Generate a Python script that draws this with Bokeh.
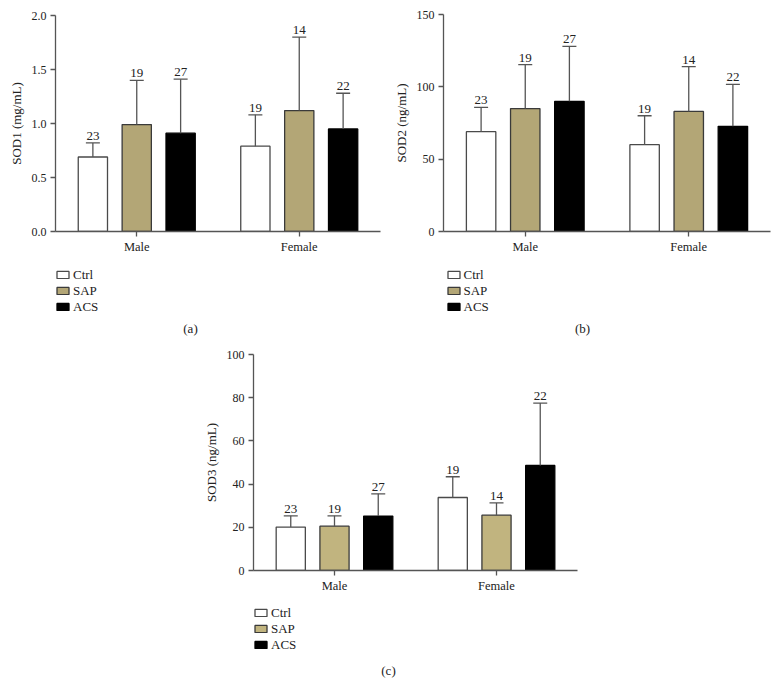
from bokeh.plotting import figure
from bokeh.models import (FactorRange, Range1d, ColumnDataSource, Whisker, TeeHead,
                          Legend, LegendItem, Label, FixedTicker, Spacer)
from bokeh.transform import dodge
from bokeh.layouts import column, row
from bokeh.core.properties import value
from bokeh.embed import file_html
from bokeh.resources import INLINE

sexes = ["Male", "Female"]
groups = ["Ctrl", "SAP", "ACS"]
n_male = [23, 19, 27]
n_female = [19, 14, 22]

# SOD1 (mg/mL)
sod1_male_mean = [0.69, 0.99, 0.91]
sod1_male_sd = [0.13, 0.41, 0.50]
sod1_female_mean = [0.79, 1.12, 0.95]
sod1_female_sd = [0.29, 0.68, 0.33]

# SOD2 (ng/mL)
sod2_male_mean = [69.0, 85.0, 90.0]
sod2_male_sd = [16.8, 30.4, 38.0]
sod2_female_mean = [60.0, 83.0, 72.7]
sod2_female_sd = [20.0, 31.0, 29.0]

# SOD3 (ng/mL)
sod3_male_mean = [20.1, 20.5, 25.2]
sod3_male_sd = [5.2, 4.8, 10.3]
sod3_female_mean = [33.8, 25.6, 48.6]
sod3_female_sd = [9.6, 5.7, 28.9]

SERIF = "Liberation Serif"
AX = "#555555"
TXT = "#222222"
OFFSETS = [-0.27, 0.0, 0.27]
LINES = ["#4a4a4a", "#3a3a3a", "black"]


def chart(ylabel, mm, sm, mf, sf, ymax, ticks, fmt_dec, width, height,
          bl, br, bt, bb, sap_color):
    p = figure(width=width, height=height, output_backend="svg", toolbar_location=None,
               x_range=FactorRange(factors=sexes, range_padding=0),
               y_range=Range1d(0, ymax),
               min_border_left=bl, min_border_right=br, min_border_top=bt,
               min_border_bottom=bb)
    p.outline_line_color = None
    p.xgrid.grid_line_color = None
    p.ygrid.grid_line_color = None

    for ax in (p.xaxis[0], p.yaxis[0]):
        ax.axis_line_color = AX
        ax.axis_line_width = 1.3
        ax.major_tick_line_color = AX
        ax.major_tick_line_width = 1.3
        ax.major_tick_out = 5
        ax.major_tick_in = 0
        ax.minor_tick_line_color = None
        ax.major_label_text_font = SERIF
        ax.major_label_text_color = TXT
    p.xaxis.major_label_text_font_size = "12.5px"
    p.xaxis.major_label_standoff = 3
    p.yaxis.major_label_text_font_size = "12px"
    p.yaxis.major_label_standoff = 4
    p.yaxis.ticker = FixedTicker(ticks=ticks)
    if fmt_dec:
        p.yaxis.major_label_overrides = {t: f"{t:.1f}" for t in ticks}
    else:
        p.yaxis.major_label_overrides = {t: f"{t:.0f}" for t in ticks}
    p.yaxis.axis_label = ylabel
    p.yaxis.axis_label_text_font = SERIF
    p.yaxis.axis_label_text_font_style = "normal"
    p.yaxis.axis_label_text_font_size = "13px"
    p.yaxis.axis_label_text_color = TXT
    p.yaxis.axis_label_standoff = 5

    fills = ["white", sap_color, "black"]
    for i, g in enumerate(groups):
        src = ColumnDataSource(dict(
            x=sexes,
            top=[mm[i], mf[i]],
            upper=[mm[i] + sm[i], mf[i] + sf[i]],
            n=[str(n_male[i]), str(n_female[i])],
        ))
        xs = dodge("x", OFFSETS[i], range=p.x_range)
        w = Whisker(base=xs, upper="upper", lower="top", source=src, dimension="height",
                    line_color="#555555", line_width=1.3,
                    upper_head=TeeHead(size=14, line_color="#555555", line_width=1.3),
                    lower_head=None, level="glyph")
        p.add_layout(w)
        p.vbar(x=xs, top="top", width=0.18, source=src, fill_color=fills[i],
               line_color=LINES[i], line_width=1.3)
        p.text(x=xs, y="upper", text="n", source=src, text_align="center",
               text_baseline="alphabetic", y_offset=-7, text_font=value(SERIF),
               text_font_size="13px", text_color=TXT)
    return p


def legend_box(width, height, lx, ly, caption, cx, cy, sap_color):
    f = figure(width=width, height=height, output_backend="svg", toolbar_location=None,
               x_range=Range1d(0, 1), y_range=Range1d(0, 1),
               x_axis_type=None, y_axis_type=None,
               min_border_left=0, min_border_right=0, min_border_top=0, min_border_bottom=0)
    f.outline_line_color = None
    fills = ["white", sap_color, "black"]
    items = []
    for i, g in enumerate(groups):
        # hidden legend proxy (only its legend swatch is shown)
        proxy = ColumnDataSource(dict(x=[0.5], top=[0.5]))
        r = f.vbar(x="x", top="top", width=0.1, source=proxy, fill_color=fills[i],
                   line_color=LINES[i], line_width=1.3, visible=False)
        items.append(LegendItem(label=g, renderers=[r]))
    leg = Legend(items=items, location=(lx, ly), glyph_width=15, glyph_height=9,
                 label_standoff=3, spacing=0, padding=0, margin=0,
                 border_line_color=None, background_fill_alpha=0,
                 inactive_fill_alpha=0,
                 label_text_font=SERIF, label_text_font_size="13px",
                 label_text_color=TXT, label_height=12)
    f.add_layout(leg)
    f.add_layout(Label(x=cx, y=cy, x_units="screen", y_units="screen", text=caption,
                       text_align="center", text_baseline="middle", text_font=SERIF,
                       text_font_size="13px", text_color=TXT))
    return f


ca = chart("SOD1 (mg/mL)", sod1_male_mean, sod1_male_sd, sod1_female_mean, sod1_female_sd,
           2.0, [0, 0.5, 1.0, 1.5, 2.0], True, 390, 260, 55, 10, 15, 29, "#b3a676")
la = legend_box(390, 78, 0, 23.5, "(a)", 135, 10, "#b3a676")

cb = chart("SOD2 (ng/mL)", sod2_male_mean, sod2_male_sd, sod2_female_mean, sod2_female_sd,
           150, [0, 50, 100, 150], False, 385, 260, 51, 5, 14, 29, "#b3a676")
lb = legend_box(385, 78, 2.5, 23.5, "(b)", 139, 10, "#b3a676")

cc = chart("SOD3 (ng/mL)", sod3_male_mean, sod3_male_sd, sod3_female_mean, sod3_female_sd,
           100, [0, 20, 40, 60, 80, 100], False, 429, 260, 75, 30, 16, 28, "#c1b47f")
lc = legend_box(429, 90, 0, 35.5, "(c)", 135, 18, "#c1b47f")

layout = column(row(column(ca, la), column(cb, lb)),
                row(Spacer(width=178, height=350), column(cc, lc)))

open("out.html", "w").write(file_html(layout, INLINE))
